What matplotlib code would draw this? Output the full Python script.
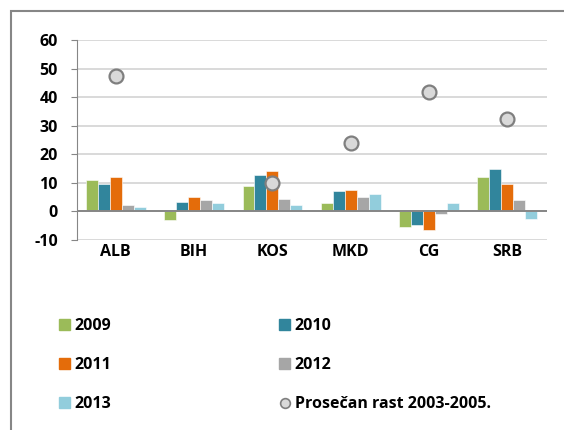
import matplotlib
matplotlib.use("Agg")
import matplotlib.pyplot as plt
import numpy as np
from matplotlib.patches import Patch, Rectangle
from matplotlib.lines import Line2D

plt.rcParams["font.family"] = ["Open Sans", "DejaVu Sans"]
plt.rcParams["font.weight"] = "bold"
plt.rcParams["axes.unicode_minus"] = False

countries = ["ALB", "BIH", "KOS", "MKD", "CG", "SRB"]
years = ["2009", "2010", "2011", "2012", "2013"]
v2009 = [11.0, -3.1, 8.9, 3.1, -5.5, 11.9]
v2010 = [9.7, 3.4, 12.9, 7.1, -4.8, 14.9]
v2011 = [12.1, 5.1, 14.2, 7.6, -6.4, 9.7]
v2012 = [2.3, 4.1, 4.4, 5.0, -0.8, 4.0]
v2013 = [1.6, 2.9, 2.4, 6.2, 2.9, -2.8]
avg_0305 = [47.4, np.nan, 10.0, 24.0, 41.7, 32.5]
avg_label = "Prosečan rast 2003-2005."

colors = ["#9BBB59", "#31859C", "#E46C0A", "#A6A6A6", "#92CDDC"]
series = [v2009, v2010, v2011, v2012, v2013]
FS = 11.5

fig = plt.figure(figsize=(5.64, 4.30), dpi=100)
ax = fig.add_axes([0.136, 0.442, 0.833, 0.465])

x = np.arange(len(countries))
w = 0.153
for i, (vals, c) in enumerate(zip(series, colors)):
    ax.bar(x + (i - 2) * w, vals, w, color=c, edgecolor="white", linewidth=0.4, zorder=3)
ax.plot(x, avg_0305, "o", ms=10, mfc="#D9D9D9", mec="#7F7F7F", mew=1.6, zorder=4)

ax.set_xlim(-0.5, len(countries) - 0.5)
ax.set_ylim(-10, 60)
ax.set_yticks(range(-10, 61, 10))
ax.grid(axis="y", color="#D9D9D9", lw=1.4, zorder=0)
ax.axhline(0, color="#868686", lw=1.4, zorder=3.5)
for s in ["top", "right", "bottom"]:
    ax.spines[s].set_visible(False)
ax.spines["left"].set_color("#868686")
ax.tick_params(axis="y", length=4.5, color="#868686", pad=9, labelsize=FS)
ax.tick_params(axis="x", length=0, pad=3, labelsize=FS)
ax.set_xticks(x)
ax.set_xticklabels(countries)
for t in ax.get_xticklabels() + ax.get_yticklabels():
    t.set_fontweight("bold")

h = [Patch(color=c) for c in colors]
hm = Line2D([], [], ls="", marker="o", ms=7, mfc="#D9D9D9", mec="#7F7F7F", mew=1.2)
handles = [h[0], h[2], h[4], h[1], h[3], hm]
labels = [years[0], years[2], years[4], years[1], years[3], avg_label]
fig.legend(handles, labels, loc="upper left", bbox_to_anchor=(51 / 564, 1 - 310 / 430),
           ncol=2, frameon=False, borderpad=0, handlelength=0.68, handleheight=0.68,
           handletextpad=0.3, columnspacing=10.5, labelspacing=1.45,
           prop={"weight": "bold", "size": FS})

fig.patches.append(Rectangle((11 / 564, -0.1), 1.2, 1 - 11 / 430 + 0.1, transform=fig.transFigure,
                             fill=False, edgecolor="#868686", lw=1.5))

fig.savefig("out.png", dpi=100)
